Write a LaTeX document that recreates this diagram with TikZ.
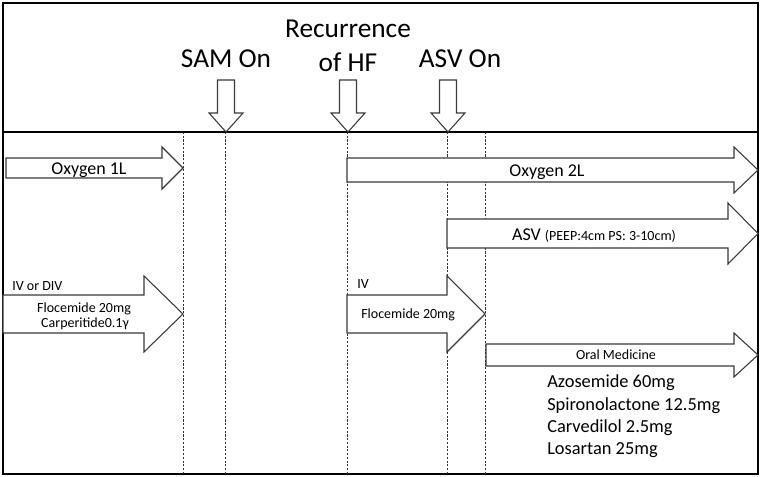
\documentclass[tikz,border=0pt]{standalone}
\usepackage{fontspec}
\setmainfont{Carlito}
\definecolor{edgecolor}{HTML}{3A3A3A}
\tikzset{
  tl frame/.style={draw=black,line width=1.5pt},
  tl guide/.style={draw=black!80,line width=.6pt,dash pattern=on 1.6pt off 1.2pt},
  tl arrow/.style={draw=edgecolor,fill=white,line width=.8pt,line join=miter},
  tl head/.style={font=\fontsize{20.5}{24}\selectfont,inner sep=0pt},
  tl label/.style={font=\fontsize{13.5}{16}\selectfont,inner sep=0pt},
  tl small/.style={font=\fontsize{10.5}{12.5}\selectfont,inner sep=0pt},
  tl drug/.style={font=\fontsize{13.8}{16.7}\selectfont,inner sep=0pt}
}
% block arrow to the right: left x, tip x, mid y, body half, head half, head length
\newcommand{\blockarrow}[6]{%
  \draw[tl arrow] (#1,#3-#4) -- (#2-#6,#3-#4) -- (#2-#6,#3-#5) -- (#2,#3)
    -- (#2-#6,#3+#5) -- (#2-#6,#3+#4) -- (#1,#3+#4) -- cycle;}
% block arrow pointing down on the divider, at x
\newcommand{\dropmark}[1]{%
  \draw[tl arrow] (#1-8.5,80) -- (#1+8.5,80) -- (#1+8.5,113) -- (#1+17,113) -- (#1,132)
    -- (#1-17,113) -- (#1-8.5,113) -- cycle;}

\begin{document}
\begin{tikzpicture}[x=.75pt,y=-.75pt]
  \useasboundingbox (0,0) rectangle (761,477);
  % frame and time guides
  \draw[tl frame] (3,3) rectangle (758,474);
  \foreach \x in {183,225,347,447,485}{\draw[tl guide] (\x,132) -- (\x,474);}
  \draw[tl frame] (3,132) -- (758,132);
  % events
  \node[tl head,anchor=base] (sam) at (226,68) {SAM On};
  \node[tl head,anchor=base] (recur) at (348,38) {Recurrence};
  \node[tl head,anchor=base] (hf) at (348,72) {of HF};
  \node[tl head,anchor=base] (asvon) at (460,68) {ASV On};
  \foreach \x in {226,348,448}{\dropmark{\x}}
  % treatments
  \blockarrow{6}{183}{168}{10}{21}{21}
  \blockarrow{347}{758}{170}{12}{23}{24}
  \blockarrow{447}{758}{233.5}{14.5}{30.5}{30}
  \blockarrow{3}{183}{314}{19}{38}{39}
  \blockarrow{347}{485}{314}{19}{38}{38}
  \blockarrow{486}{758}{355}{11}{22}{24}
  \node[tl label,anchor=base] (oxa) at (89,175) {Oxygen 1L};
  \node[tl label,anchor=base] (oxb) at (547,177) {Oxygen 2L};
  \node[tl label,anchor=base] (asv) at (594,241) {ASV {\fontsize{10.5}{12}\selectfont (PEEP:4cm PS: 3-10cm)}};
  \node[tl small,anchor=base west] (ivdiv) at (12,291) {IV or DIV};
  \node[tl small,anchor=base] (flo) at (84,313) {Flocemide 20mg};
  \node[tl small,anchor=base] (carp) at (85,328) {Carperitide0.1γ};
  \node[tl small,anchor=base west] (iv) at (357,289) {IV};
  \node[tl small,anchor=base west] (flob) at (361,319) {Flocemide 20mg};
  \node[tl small,anchor=base] (oral) at (616,360) {Oral Medicine};
  \foreach \i/\drug in {0/Azosemide 60mg,1/Spironolactone 12.5mg,2/Carvedilol 2.5mg,3/Losartan 25mg}{
    \node[tl drug,anchor=base west] (drug\i) at (547,388+22.3*\i) {\drug};}
\end{tikzpicture}
\end{document}
